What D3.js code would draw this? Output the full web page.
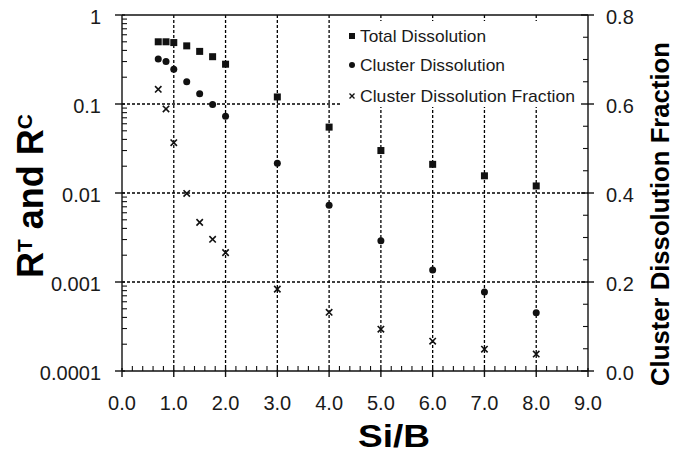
<!DOCTYPE html>
<html>
<head>
<meta charset="utf-8">
<script src="https://cdn.jsdelivr.net/npm/d3@7"></script>
<style>
  html, body { margin: 0; padding: 0; background: #fff; }
  svg { display: block; font-family: "Liberation Sans", Arial, sans-serif; }
</style>
</head>
<body>
<svg id="chart" width="674" height="455"></svg>
<script>
// ---- data ----
const siB = [0.7, 0.85, 1.0, 1.25, 1.5, 1.75, 2.0, 3, 4, 5, 6, 7, 8];
const totalDissolution = [0.50, 0.50, 0.49, 0.45, 0.39, 0.34, 0.28, 0.12, 0.055, 0.030, 0.021, 0.0156, 0.012];
const clusterDissolution = [0.32, 0.30, 0.245, 0.178, 0.13, 0.099, 0.073, 0.0216, 0.0073, 0.0029, 0.00136, 0.00077, 0.00045];
const clusterFraction = [0.633, 0.589, 0.513, 0.399, 0.334, 0.296, 0.266, 0.184, 0.132, 0.094, 0.067, 0.049, 0.038];
const xTicks = [0, 1, 2, 3, 4, 5, 6, 7, 8, 9];
const yLeftTicks = [0.0001, 0.001, 0.01, 0.1, 1];
const yLeftLabels = ["0.0001", "0.001", "0.01", "0.1", "1"];
const yRightTicks = [0, 0.2, 0.4, 0.6, 0.8];
const legendLabels = ["Total Dissolution", "Cluster Dissolution", "Cluster Dissolution Fraction"];

// ---- layout ----
const L = 122, R = 588, T = 15, B = 371;
const svg = d3.select("#chart");
const x = d3.scaleLinear().domain([0, 9]).range([L, R]);
const yL = d3.scaleLog().domain([1e-4, 1]).range([B, T]);
const yR = d3.scaleLinear().domain([0, 0.8]).range([B, T]);
const ink = "#111";

// ---- gridlines ----
const grid = svg.append("g").attr("stroke", "#000").attr("stroke-width", 1.3).attr("stroke-dasharray", "3,2");
grid.selectAll("line.h").data([0.001, 0.01, 0.1]).join("line")
  .attr("x1", L).attr("x2", R).attr("y1", d => yL(d)).attr("y2", d => yL(d));
grid.selectAll("line.v").data([1, 2, 3, 4, 5, 6, 7, 8]).join("line")
  .attr("x1", d => x(d)).attr("x2", d => x(d)).attr("y1", T).attr("y2", B);

// ---- legend box (white, covers grid) ----
svg.append("rect").attr("x", 342).attr("y", 21).attr("width", R - 342).attr("height", 86).attr("fill", "#fff");

// ---- axes ----
const ax = svg.append("g").attr("stroke", ink).attr("stroke-width", 1.4);
ax.append("line").attr("x1", L).attr("x2", L).attr("y1", T).attr("y2", B);
ax.append("line").attr("x1", R).attr("x2", R).attr("y1", T).attr("y2", B);
ax.append("line").attr("x1", L).attr("x2", R).attr("y1", B).attr("y2", B);
ax.append("line").attr("x1", L).attr("x2", R).attr("y1", T).attr("y2", T);

// x ticks
ax.selectAll("line.xmaj").data(xTicks).join("line")
  .attr("x1", d => x(d)).attr("x2", d => x(d)).attr("y1", B - 3).attr("y2", B + 6);
const xMinor = d3.range(0, 45).map(i => i / 5).filter(v => Math.abs(v - Math.round(v)) > 1e-6);
ax.selectAll("line.xmin").data(xMinor).join("line")
  .attr("x1", d => x(d)).attr("x2", d => x(d)).attr("y1", B).attr("y2", B - 5).attr("stroke-width", 1.1);

// left ticks
ax.selectAll("line.lmaj").data(yLeftTicks).join("line")
  .attr("x1", L - 7).attr("x2", L + 3).attr("y1", d => yL(d)).attr("y2", d => yL(d));
const lMinor = [];
[-4, -3, -2, -1].forEach(e => { for (let k = 2; k <= 9; k++) lMinor.push(k * Math.pow(10, e)); });
ax.selectAll("line.lmin").data(lMinor).join("line")
  .attr("x1", L).attr("x2", L + 5).attr("y1", d => yL(d)).attr("y2", d => yL(d)).attr("stroke-width", 1.1);

// right ticks
ax.selectAll("line.rmaj").data(yRightTicks).join("line")
  .attr("x1", R - 7).attr("x2", R + 6).attr("y1", d => yR(d)).attr("y2", d => yR(d));
const rMinor = d3.range(1, 16).map(i => i * 0.05).filter(v => Math.abs(v * 5 - Math.round(v * 5)) > 1e-6);
ax.selectAll("line.rmin").data(rMinor).join("line")
  .attr("x1", R - 5).attr("x2", R).attr("y1", d => yR(d)).attr("y2", d => yR(d)).attr("stroke-width", 1.1);

// ---- tick labels ----
const lab = svg.append("g").attr("fill", "#1a1a1a").attr("font-size", 20);
lab.selectAll("text.x").data(xTicks).join("text")
  .attr("x", d => x(d)).attr("y", 410).attr("text-anchor", "middle")
  .text(d => d3.format(".1f")(d));
lab.selectAll("text.l").data(yLeftTicks).join("text")
  .attr("x", 101).attr("y", d => yL(d) + 9).attr("text-anchor", "end")
  .text((d, i) => yLeftLabels[i]);
lab.selectAll("text.r").data(yRightTicks).join("text")
  .attr("x", 606).attr("y", d => yR(d) + 9).attr("text-anchor", "start")
  .text(d => d3.format(".1f")(d));

// ---- axis titles ----
svg.append("text").attr("x", 394).attr("y", 447).attr("text-anchor", "middle")
  .attr("font-weight", "bold").attr("font-size", 31).attr("fill", "#000")
  .attr("textLength", 72).attr("lengthAdjust", "spacingAndGlyphs").text("Si/B");

const lt = svg.append("text").attr("transform", "translate(43,196) rotate(-90)")
  .attr("text-anchor", "middle").attr("font-weight", "bold").attr("font-size", 36).attr("fill", "#000");
lt.append("tspan").text("R");
lt.append("tspan").attr("font-size", 21).attr("dy", -11).text("T");
lt.append("tspan").attr("dy", 11).text(" and R");
lt.append("tspan").attr("font-size", 21).attr("dy", -11).text("C");

svg.append("text").attr("transform", "translate(669,214) rotate(-90)")
  .attr("text-anchor", "middle").attr("font-weight", "bold").attr("font-size", 25).attr("fill", "#000")
  .attr("textLength", 344).attr("lengthAdjust", "spacingAndGlyphs").text("Cluster Dissolution Fraction");

// ---- data marks ----
const marks = svg.append("g").attr("fill", ink);
const pts = siB.map((v, i) => ({ x: v, t: totalDissolution[i], c: clusterDissolution[i], f: clusterFraction[i] }));
const sq = 7;
marks.selectAll("rect.t").data(pts).join("rect")
  .attr("x", d => x(d.x) - sq / 2).attr("y", d => yL(d.t) - sq / 2).attr("width", sq).attr("height", sq);
marks.selectAll("circle.c").data(pts).join("circle")
  .attr("cx", d => x(d.x)).attr("cy", d => yL(d.c)).attr("r", 3.5);
const cr = 3.2;
marks.selectAll("path.f").data(pts).join("path")
  .attr("d", d => {
    const cx = x(d.x), cy = yR(d.f);
    return `M${cx - cr},${cy - cr}L${cx + cr},${cy + cr}M${cx - cr},${cy + cr}L${cx + cr},${cy - cr}`;
  })
  .attr("fill", "none").attr("stroke", ink).attr("stroke-width", 1.6);

// ---- legend ----
const lg = svg.append("g");
const rowsY = [36, 65, 96];
lg.append("rect").attr("x", 349).attr("y", rowsY[0] - 3).attr("width", 6).attr("height", 6).attr("fill", ink);
lg.append("circle").attr("cx", 352).attr("cy", rowsY[1]).attr("r", 3).attr("fill", ink);
lg.append("path").attr("d", `M349.5,${rowsY[2] - 2.5}L354.5,${rowsY[2] + 2.5}M349.5,${rowsY[2] + 2.5}L354.5,${rowsY[2] - 2.5}`)
  .attr("stroke", ink).attr("stroke-width", 1.4);
const legW = [126, 145, 215];
lg.selectAll("text").data(legendLabels).join("text")
  .attr("x", 360).attr("y", (d, i) => rowsY[i] + 6).attr("font-size", 17).attr("fill", "#1a1a1a")
  .attr("textLength", (d, i) => legW[i]).attr("lengthAdjust", "spacingAndGlyphs")
  .text(d => d);
</script>
</body>
</html>
